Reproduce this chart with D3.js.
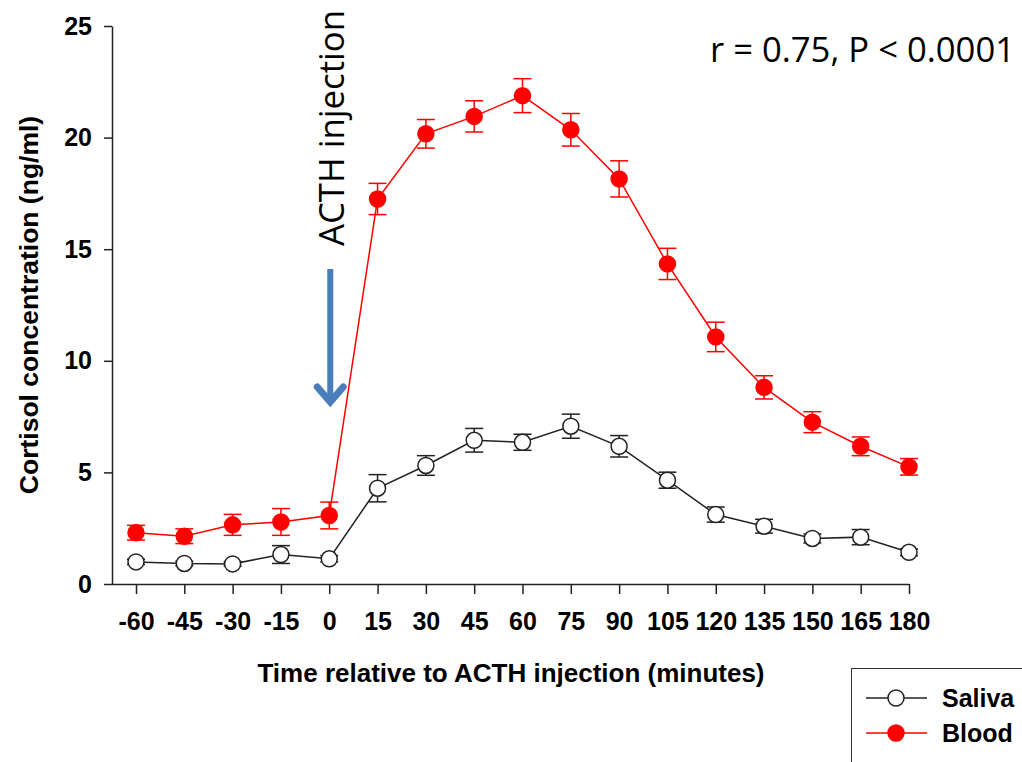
<!DOCTYPE html>
<html lang="en">
<head>
    <meta charset="UTF-8">
    <title>Salivary and blood cortisol after ACTH injection</title>
    <style>
        body {
            margin: 0;
            background: #fff;
        }

        svg {
            display: block;
        }

        .tick text {
            font-family: "Liberation Sans", Arial, sans-serif;
            font-weight: bold;
            fill: #000;
        }

        .label {
            font-family: "Liberation Sans", Arial, sans-serif;
            font-weight: bold;
        }

        .note {
            font-family: "Open Sans", "Liberation Sans", sans-serif;
        }
    </style>
    <script src="https://d3js.org/d3.v7.min.js"></script>
</head>
<body>
    <svg id="chart" width="1022" height="762"></svg>

    <script>
        // minutes relative to the ACTH injection
        const times = [-60, -45, -30, -15, 0, 15, 30, 45, 60, 75, 90, 105, 120, 135, 150, 165, 180];

        // cortisol (ng/ml), mean and error bar half-width
        const salivaMean = [0.99, 0.92, 0.9, 1.32, 1.13, 4.29, 5.31, 6.44, 6.35, 7.07, 6.17, 4.65, 3.11, 2.59, 2.04, 2.1, 1.42];
        const salivaErr = [0.12, 0.1, 0.1, 0.4, 0.14, 0.61, 0.44, 0.53, 0.36, 0.54, 0.48, 0.36, 0.34, 0.31, 0.2, 0.34, 0.15];
        const bloodMean = [2.3, 2.14, 2.65, 2.78, 3.07, 17.25, 20.17, 20.95, 21.88, 20.35, 18.15, 14.34, 11.07, 8.81, 7.25, 6.17, 5.25];
        const bloodErr = [0.33, 0.33, 0.47, 0.6, 0.6, 0.7, 0.64, 0.7, 0.76, 0.73, 0.81, 0.7, 0.66, 0.52, 0.47, 0.42, 0.37];

        const yTicks = [0, 5, 10, 15, 20, 25];

        const series = [
            { name: "Saliva", mean: salivaMean, err: salivaErr, stroke: "#222", fill: "#fff" },
            { name: "Blood", mean: bloodMean, err: bloodErr, stroke: "#ff0000", fill: "#ff0000" }
        ];

        const svg = d3.select("#chart");

        const x = d3.scaleLinear().domain([-60, 180]).range([136, 909]);
        const y = d3.scaleLinear().domain([0, 25]).range([584, 26]);

        // axes (plain hyphen for negatives, like the original)
        const xAxis = svg.append("g")
            .attr("transform", `translate(0,${y(0)})`)
            .call(d3.axisBottom(x).tickValues(times).tickFormat(d => String(d))
                .tickSize(10).tickPadding(18).tickSizeOuter(0));
        xAxis.select(".domain").attr("d", `M112,0.5H${x(180)}`);
        xAxis.selectAll(".tick text").style("font-size", "25px");

        const yAxis = svg.append("g")
            .attr("transform", "translate(112,0)")
            .call(d3.axisLeft(y).tickValues(yTicks).tickSize(8).tickPadding(12).tickSizeOuter(0));
        yAxis.selectAll(".tick text").style("font-size", "25px");
        svg.selectAll(".domain, .tick line").attr("stroke", "#222").attr("stroke-width", 1.5);

        // axis titles
        svg.append("text")
            .attr("class", "label")
            .attr("x", 511).attr("y", 682)
            .attr("text-anchor", "middle")
            .style("font-size", "26px")
            .text("Time relative to ACTH injection (minutes)");

        svg.append("text")
            .attr("class", "label")
            .attr("transform", "translate(38,305) rotate(-90)")
            .attr("text-anchor", "middle")
            .style("font-size", "26.5px")
            .text("Cortisol concentration (ng/ml)");

        // series: line, error bars, markers
        const line = d3.line()
            .x((d, i) => x(times[i]))
            .y(d => y(d));

        series.forEach(s => {
            const g = svg.append("g");
            g.append("path")
                .datum(s.mean)
                .attr("d", line)
                .attr("fill", "none")
                .attr("stroke", s.stroke)
                .attr("stroke-width", 1.5);

            const bars = g.selectAll(".err")
                .data(s.mean)
                .join("g")
                .attr("stroke", s.stroke)
                .attr("stroke-width", 1.5);
            bars.append("line")
                .attr("x1", (d, i) => x(times[i])).attr("x2", (d, i) => x(times[i]))
                .attr("y1", (d, i) => y(d + s.err[i])).attr("y2", (d, i) => y(d - s.err[i]));
            bars.append("line")
                .attr("x1", (d, i) => x(times[i]) - 9).attr("x2", (d, i) => x(times[i]) + 9)
                .attr("y1", (d, i) => y(d + s.err[i])).attr("y2", (d, i) => y(d + s.err[i]));
            bars.append("line")
                .attr("x1", (d, i) => x(times[i]) - 9).attr("x2", (d, i) => x(times[i]) + 9)
                .attr("y1", (d, i) => y(d - s.err[i])).attr("y2", (d, i) => y(d - s.err[i]));

            g.selectAll("circle")
                .data(s.mean)
                .join("circle")
                .attr("cx", (d, i) => x(times[i]))
                .attr("cy", d => y(d))
                .attr("r", 8)
                .attr("fill", s.fill)
                .attr("stroke", s.stroke)
                .attr("stroke-width", 1.5);
        });

        // ACTH injection arrow and label
        const ax = x(0) + 1;
        svg.append("line")
            .attr("x1", ax).attr("x2", ax)
            .attr("y1", 269).attr("y2", 400)
            .attr("stroke", "#4a7ebb").attr("stroke-width", 6);
        svg.append("path")
            .attr("d", `M${ax - 13},${387}L${ax},${402}L${ax + 13},${387}`)
            .attr("fill", "none")
            .attr("stroke", "#4a7ebb").attr("stroke-width", 7)
            .attr("stroke-linecap", "round").attr("stroke-linejoin", "miter");

        svg.append("text")
            .attr("class", "note")
            .attr("transform", `translate(${ax + 14},246) rotate(-90)`)
            .attr("textLength", 236).attr("lengthAdjust", "spacingAndGlyphs")
            .style("font-size", "34px")
            .text("ACTH injection");

        svg.append("text")
            .attr("class", "note")
            .attr("x", 710).attr("y", 62)
            .attr("textLength", 305).attr("lengthAdjust", "spacingAndGlyphs")
            .style("font-size", "34px")
            .text("r = 0.75, P < 0.0001");

        // legend
        svg.append("rect")
            .attr("x", 851.5).attr("y", 668.5)
            .attr("width", 200).attr("height", 120)
            .attr("fill", "none").attr("stroke", "#333").attr("stroke-width", 1);

        const legend = svg.append("g")
            .selectAll("g")
            .data(series)
            .join("g")
            .attr("transform", (d, i) => `translate(0,${698 + i * 35})`);
        legend.append("line")
            .attr("x1", 866).attr("x2", 927)
            .attr("stroke", d => d.stroke).attr("stroke-width", 1.5);
        legend.append("circle")
            .attr("cx", 896).attr("r", 8)
            .attr("fill", d => d.fill).attr("stroke", d => d.stroke).attr("stroke-width", 1.5);
        legend.append("text")
            .attr("class", "label")
            .attr("x", 942).attr("y", 9)
            .style("font-size", "25px")
            .text(d => d.name);
    </script>
</body>
</html>
